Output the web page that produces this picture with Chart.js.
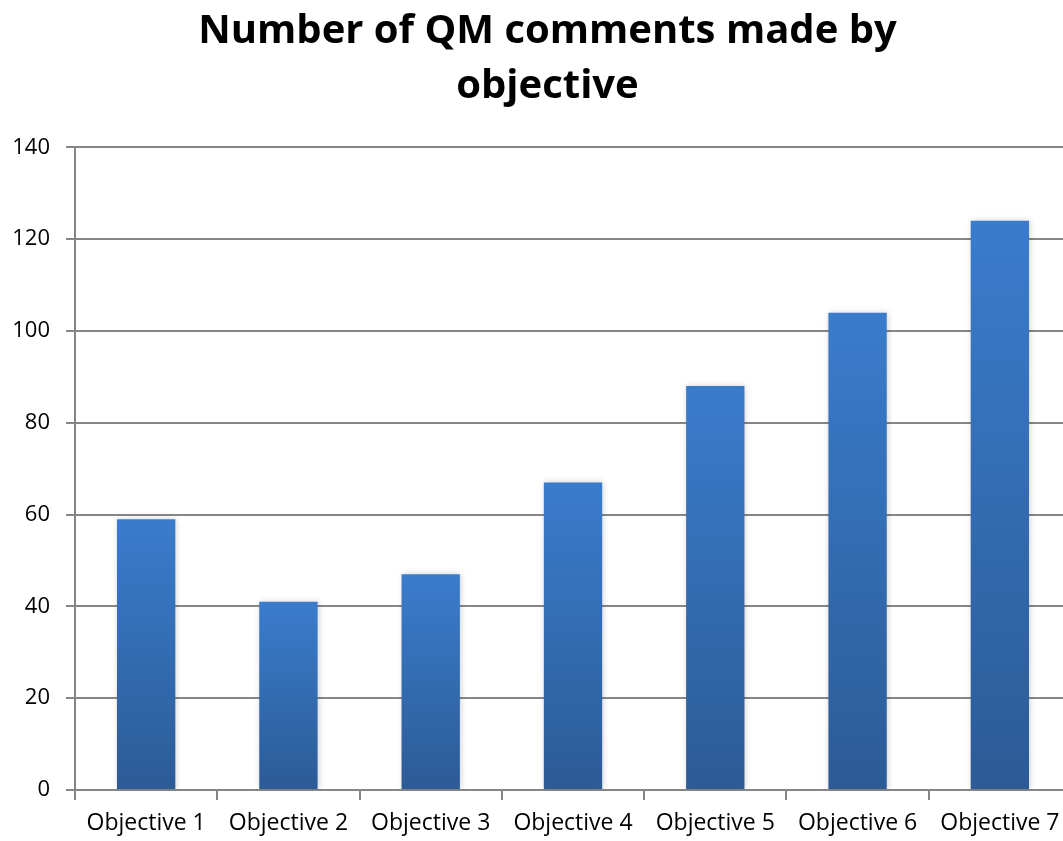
<!DOCTYPE html>
<html>
<head>
<meta charset="utf-8">
<script src="https://cdn.jsdelivr.net/npm/chart.js@4"></script>
<style>
  html, body { margin: 0; padding: 0; background: #fff; overflow: hidden; }
</style>
</head>
<body>
<canvas id="grafico" width="1080" height="841"></canvas>
<script>
var categorias = ['Objective 1', 'Objective 2', 'Objective 3', 'Objective 4', 'Objective 5', 'Objective 6', 'Objective 7'];
var comentarios = [59, 41, 47, 67, 88, 104, 124];
var tituloLinhas = ['Number of QM comments made by', 'objective'];
var yMin = 0, yMax = 140, yPasso = 20;

var fonte = "'Open Sans', 'DejaVu Sans', sans-serif";

// gradiente por barra, claro em cima e escuro embaixo
function corBarra(ctx) {
  var chart = ctx.chart;
  var area = chart.chartArea;
  if (!area || ctx.type !== 'data') return '#3a7bcb';
  var y = chart.scales.y;
  var topo = y.getPixelForValue(ctx.raw);
  var base = y.getPixelForValue(0);
  var g = chart.ctx.createLinearGradient(0, topo, 0, base);
  g.addColorStop(0, '#3a7ccc');
  g.addColorStop(1, '#2c5b96');
  return g;
}

var sombra = {
  id: 'sombra',
  beforeDatasetsDraw: function (chart) {
    var c = chart.ctx;
    c.save();
    c.shadowColor = 'rgba(0,0,0,0.18)';
    c.shadowBlur = 6;
    c.shadowOffsetX = 1;
    c.shadowOffsetY = 0;
  },
  afterDatasetsDraw: function (chart) {
    chart.ctx.restore();
  }
};

// o titulo fica um pouco deslocado para a direita no original
var ajusteTitulo = {
  id: 'ajusteTitulo',
  afterLayout: function (chart) {
    if (chart.titleBlock) chart.titleBlock.left = 24;
  }
};

new Chart(document.getElementById('grafico').getContext('2d'), {
  type: 'bar',
  data: {
    labels: categorias,
    datasets: [{
      label: 'Comments',
      data: comentarios,
      backgroundColor: corBarra,
      borderWidth: 0,
      barPercentage: 0.41,
      categoryPercentage: 1.0
    }]
  },
  plugins: [sombra, ajusteTitulo],
  options: {
    responsive: false,
    animation: false,
    layout: { padding: { left: 0, right: 9, top: 0, bottom: 0 } },
    plugins: {
      legend: { display: false },
      tooltip: { enabled: false },
      title: {
        display: true,
        text: tituloLinhas,
        color: '#000',
        font: { family: fonte, size: 40, weight: 'bold', lineHeight: 1.38 },
        padding: { top: 4, bottom: 33 }
      }
    },
    scales: {
      x: {
        afterFit: function (s) { s.height = 51; },
        grid: {
          display: true,
          drawOnChartArea: false,
          offset: true,
          tickLength: 10,
          color: '#868686',
          lineWidth: 2
        },
        border: { color: '#868686', width: 2 },
        ticks: {
          color: '#000',
          padding: 10,
          maxRotation: 0,
          autoSkip: false,
          font: { family: fonte, size: 23 }
        }
      },
      y: {
        min: yMin,
        max: yMax,
        afterFit: function (s) { s.width = 75; },
        grid: {
          color: '#868686',
          lineWidth: 2,
          tickLength: 9
        },
        border: { color: '#868686', width: 2 },
        ticks: {
          stepSize: yPasso,
          color: '#000',
          padding: 16,
          font: { family: fonte, size: 22 }
        }
      }
    }
  }
});
</script>
</body>
</html>
